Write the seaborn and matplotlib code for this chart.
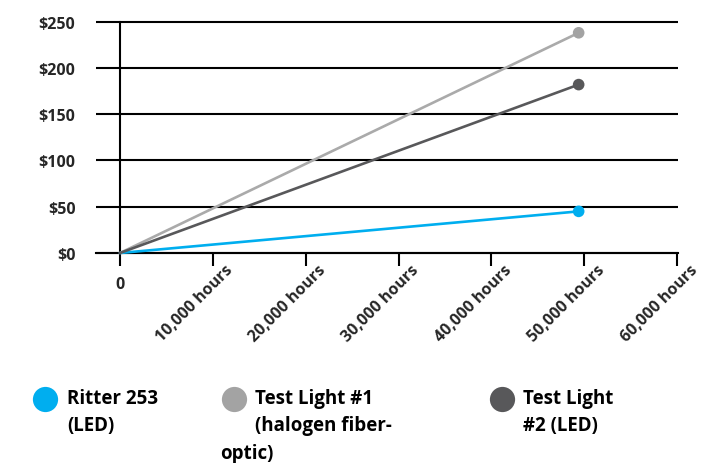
import pandas as pd
import matplotlib.pyplot as plt
import seaborn as sns
from matplotlib.transforms import ScaledTranslation

# --- data ---
hours = [0, 49400]
ritter_cost = [0, 45]
test1_cost = [0, 238]
test2_cost = [0, 182]

series_names = ['Ritter 253', 'Test Light #1', 'Test Light #2']
line_colors = ['#00AEEF', '#AAAAAA', '#58585A']
dot_colors = ['#00AEEF', '#A3A3A3', '#58585A']

x_ticks = [0, 10000, 20000, 30000, 40000, 50000, 60000]
x_tick_labels = ['0', '10,000 hours', '20,000 hours', '30,000 hours',
                 '40,000 hours', '50,000 hours', '60,000 hours']
y_ticks = [0, 50, 100, 150, 200, 250]
y_tick_labels = ['$0', '$50', '$100', '$150', '$200', '$250']

legend_lines = [['Ritter 253', '(LED)'],
                ['Test Light #1', '(halogen fiber-'],
                ['Test Light', '#2 (LED)']]

df = pd.DataFrame({
    'hours': hours * 3,
    'cost': ritter_cost + test1_cost + test2_cost,
    'series': [s for s in series_names for _ in hours],
})

sns.set_theme(style='white')
plt.rcParams['font.family'] = ['Open Sans', 'DejaVu Sans']
plt.rcParams['font.weight'] = 'bold'

fig = plt.figure(figsize=(7.19, 4.64), dpi=100)
ax = fig.add_axes([0.1335, 0.4466, 0.8095, 0.5105])

ax.yaxis.grid(True, color='black', linewidth=1.5)
ax.xaxis.grid(False)
ax.set_axisbelow(True)

sns.lineplot(data=df, x='hours', y='cost', hue='series', hue_order=series_names,
             palette=dict(zip(series_names, line_colors)), linewidth=1.9,
             legend=False, ax=ax, zorder=3)
end_pts = df[df['hours'] > 0]
sns.scatterplot(data=end_pts, x='hours', y='cost', hue='series', hue_order=series_names,
                palette=dict(zip(series_names, dot_colors)), s=70, linewidth=0,
                legend=False, ax=ax, zorder=4)

ax.set_xlim(-2580, 60100)
ax.set_ylim(-3, 253)

for side in ['top', 'right']:
    ax.spines[side].set_visible(False)
ax.spines['bottom'].set_position(('data', 0))
ax.spines['bottom'].set_color('black')
ax.spines['bottom'].set_linewidth(1.5)
ax.spines['left'].set_position(('data', 0))
ax.spines['left'].set_bounds(0, 250)
ax.spines['left'].set_color('black')
ax.spines['left'].set_linewidth(1.5)

ax.set_xticks(x_ticks)
ax.set_xticklabels(x_tick_labels, fontsize=11.5, fontweight='bold')
ax.set_yticks(y_ticks)
ax.set_yticklabels(y_tick_labels, fontsize=11.5, fontweight='bold')
ax.tick_params(axis='x', direction='out', length=9.4, width=1.5, color='black', pad=1, bottom=True)
ax.tick_params(axis='y', length=0, pad=32)
ax.set_xlabel('')
ax.set_ylabel('')

for i, lbl in enumerate(ax.get_xticklabels()):
    if i == 0:
        lbl.set_rotation(0)
        lbl.set_ha('center')
        lbl.set_va('top')
        lbl.set_transform(lbl.get_transform() + ScaledTranslation(0, -0.09, fig.dpi_scale_trans))
    else:
        lbl.set_rotation(45)
        lbl.set_ha('right')
        lbl.set_va('center')
        lbl.set_rotation_mode('anchor')
        lbl.set_transform(lbl.get_transform() + ScaledTranslation(0.18, 0, fig.dpi_scale_trans))

# --- legend below the plot, drawn by hand to keep the wrapped labels ---
W, H = 719, 464
marker_x = [45, 234, 502]
text_x = [67, 255, 523]
for mx, tx, col, lines in zip(marker_x, text_x, dot_colors, legend_lines):
    ax.scatter([mx / W], [1 - 400 / H], s=330, color=col, linewidth=0,
               transform=fig.transFigure, clip_on=False)
    fig.text(tx / W, 1 - 389 / H, '\n'.join(lines), fontsize=13.5, fontweight='bold',
             color='black', va='top', ha='left', linespacing=1.5)
fig.text(220 / W, 1 - 459 / H, 'optic)', fontsize=13.5, fontweight='bold',
         color='black', va='baseline', ha='left')

plt.savefig('out.png', dpi=100)
